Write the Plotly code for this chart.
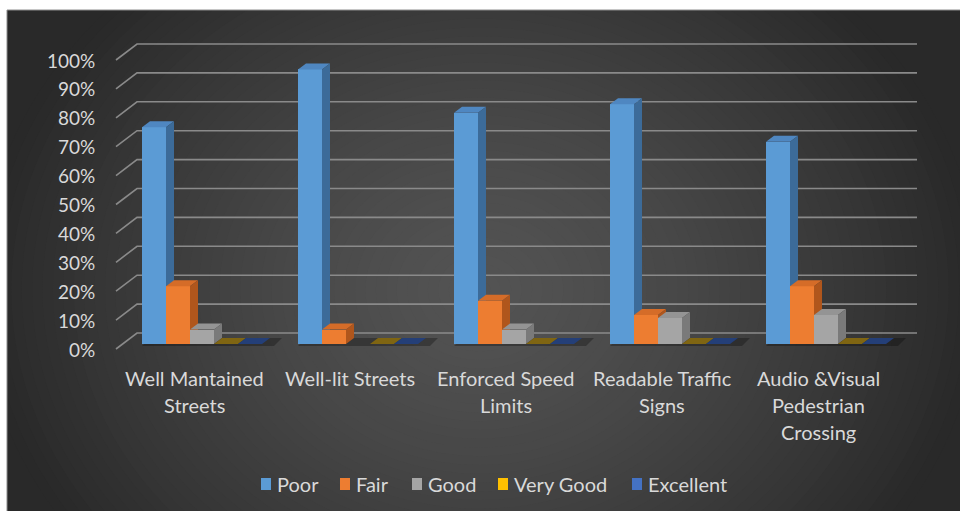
import plotly.graph_objects as go

# ---- data -------------------------------------------------------------
categories = [
    "Well Mantained<br>Streets",
    "Well-lit Streets",
    "Enforced Speed<br>Limits",
    "Readable Traffic<br>Signs",
    "Audio &Visual<br>Pedestrian<br>Crossing",
]
series_names = ["Poor", "Fair", "Good", "Very Good", "Excellent"]
poor = [0.75, 0.95, 0.80, 0.83, 0.70]
fair = [0.20, 0.05, 0.15, 0.10, 0.20]
good = [0.05, None, 0.05, 0.09, 0.10]
very_good = [0.0, 0.0, 0.0, 0.0, 0.0]
excellent = [0.0, 0.0, 0.0, 0.0, 0.0]
y_ticks = [0.0, 0.1, 0.2, 0.3, 0.4, 0.5, 0.6, 0.7, 0.8, 0.9, 1.0]
y_tick_labels = ["0%", "10%", "20%", "30%", "40%", "50%", "60%", "70%", "80%", "90%", "100%"]

series_values = [poor, fair, good, very_good, excellent]
front_colors = ["#5B9BD5", "#ED7D31", "#A5A5A5", "#FFC000", "#4472C4"]
top_colors = ["#4f87c1", "#d56c28", "#949494", "#7f6512", "#243f78"]
side_colors = ["#3c6b99", "#b0561c", "#7a7a7a", "#6b540c", "#1d3462"]

# ---- geometry of the oblique (pseudo-3D) projection --------------------
W, H = 960, 511
X0_PX, UX = 194.0, 156.0   # screen x of category 0 on the front edge, px per category
Y0_PX, UY = 349.0, 289.0   # screen y of 0% on the front edge, px per 100%


def dx(px):
    return px / UX


def dy(px):
    return px / UY


BAR_FRONT = (dx(8), dy(5))    # bar front plane offset from the front edge
BAR_BACK = (dx(16), dy(11))   # bar back plane offset
WALL = (dx(21), dy(16))       # back wall offset
BW = dx(24)                   # width of one column
n_series = len(series_names)

x_range = [-X0_PX / UX, (W - X0_PX) / UX]
y_range = [(Y0_PX - H) / UY, Y0_PX / UY]

TEXT = "#d9d9d9"
FONT = "Lato"

fig = go.Figure()

# ---- gridlines: side wall diagonals + back wall horizontals -----------
gx, gy = [], []
x_left, x_right = -0.5, len(categories) - 0.5
for v in y_ticks:
    gx += [x_left, x_left + WALL[0], x_right + WALL[0], None]
    gy += [v, v + WALL[1], v + WALL[1], None]
fig.add_trace(go.Scatter(x=gx, y=gy, mode="lines",
                         line=dict(color="#8a8a8a", width=1.6),
                         hoverinfo="skip", showlegend=False, zorder=0))

# soft shadow on the floor behind each group of columns
sx, sy = [], []
for i in range(len(categories)):
    l = i + BAR_FRONT[0] - n_series / 2 * BW
    r = i + BAR_FRONT[0] + n_series / 2 * BW + dx(12)
    sx += [l, r, r + dx(8), l + dx(8), l, None]
    sy += [BAR_FRONT[1] - dy(2), BAR_FRONT[1] - dy(2), BAR_BACK[1], BAR_BACK[1], BAR_FRONT[1] - dy(2), None]
fig.add_trace(go.Scatter(x=sx, y=sy, mode="lines", fill="toself",
                         fillcolor="rgba(0,0,0,0.28)", line=dict(width=0),
                         hoverinfo="skip", showlegend=False, zorder=0))

# ---- columns ------------------------------------------------------------
ddx = BAR_BACK[0] - BAR_FRONT[0]
ddy = BAR_BACK[1] - BAR_FRONT[1]
for j, (name, vals) in enumerate(zip(series_names, series_values)):
    xs = [i + BAR_FRONT[0] + (j - (n_series - 1) / 2) * BW for i in range(len(categories))]
    fig.add_trace(go.Bar(
        x=xs, y=vals, base=BAR_FRONT[1], width=BW, name=name,
        marker=dict(color=front_colors[j], line=dict(width=0)),
        showlegend=False, zorder=2 * j + 1,
    ))
    tx, ty, px_, py_ = [], [], [], []
    for xc, v in zip(xs, vals):
        if v is None:
            continue
        xl, xr = xc - BW / 2, xc + BW / 2
        yt = BAR_FRONT[1] + v
        tx += [xl, xr, xr + ddx, xl + ddx, xl, None]
        ty += [yt, yt, yt + ddy, yt + ddy, yt, None]
        if v > 0:
            px_ += [xr, xr + ddx, xr + ddx, xr, xr, None]
            py_ += [BAR_FRONT[1], BAR_FRONT[1] + ddy, yt + ddy, yt, BAR_FRONT[1], None]
    fig.add_trace(go.Scatter(x=tx, y=ty, mode="lines", fill="toself",
                             fillcolor=top_colors[j], line=dict(width=0),
                             hoverinfo="skip", showlegend=False, zorder=2 * j + 2))
    if px_:
        fig.add_trace(go.Scatter(x=px_, y=py_, mode="lines", fill="toself",
                                 fillcolor=side_colors[j], line=dict(width=0),
                                 hoverinfo="skip", showlegend=False, zorder=2 * j + 2))

# ---- text -----------------------------------------------------------------
ann = []
for v, lab in zip(y_ticks, y_tick_labels):
    ann.append(dict(x=x_left, y=v, xref="x", yref="y", text=lab, showarrow=False,
                    xanchor="right", yanchor="middle", xshift=-19,
                    font=dict(family=FONT, size=19, color=TEXT)))

LINE_H = 27
for i, cat in enumerate(categories):
    for k, line in enumerate(cat.split("<br>")):
        ann.append(dict(x=i, y=1 - (378 + k * LINE_H) / H, xref="x", yref="paper",
                        text=line, showarrow=False, xanchor="center", yanchor="middle",
                        font=dict(family=FONT, size=20, color=TEXT)))

# legend
shapes = []
legend_marker_x = [261, 340, 412, 498, 632]
LEG_Y = 484
for name, c, mx in zip(series_names, front_colors, legend_marker_x):
    shapes.append(dict(type="rect", xref="paper", yref="paper",
                       x0=mx / W, x1=(mx + 10) / W, y0=1 - (LEG_Y + 6) / H, y1=1 - (LEG_Y - 6) / H,
                       fillcolor=c, line=dict(width=0), layer="above"))
    ann.append(dict(x=(mx + 14) / W, y=1 - LEG_Y / H, xref="paper", yref="paper",
                    text=name, showarrow=False, xanchor="left", yanchor="middle",
                    font=dict(family=FONT, size=20, color=TEXT)))

# ---- chart area background: radial grey gradient ----------------------
bg = [dict(type="rect", xref="paper", yref="paper", x0=7 / W, x1=1, y0=0, y1=1 - 10 / H,
           fillcolor="#292929", line=dict(width=0), layer="below")]
CX, CY, RX, RY = 480, 290, 500, 420
N = 48
for k in range(N):
    t = 1 - k / N
    g = int(round(41 + 42 * (1 - t ** 1.4)))
    col = f"rgb({g},{g},{g})"
    bg.append(dict(type="circle", xref="paper", yref="paper",
                   x0=(CX - RX * t) / W, x1=(CX + RX * t) / W,
                   y0=1 - (CY + RY * t) / H, y1=1 - (CY - RY * t) / H,
                   fillcolor=col, line=dict(width=0), layer="below"))
# white page edge outside the chart area, and its thin border
bg.append(dict(type="rect", xref="paper", yref="paper", x0=0, x1=1, y0=1 - 10 / H, y1=1.05,
               fillcolor="white", line=dict(width=0), layer="below"))
bg.append(dict(type="rect", xref="paper", yref="paper", x0=-0.05, x1=7 / W, y0=-0.05, y1=1.05,
               fillcolor="white", line=dict(width=0), layer="below"))
bg.append(dict(type="rect", xref="paper", yref="paper", x0=7 / W, x1=1.01, y0=-0.01, y1=1 - 10 / H,
               fillcolor="rgba(0,0,0,0)", line=dict(width=1, color="#8c8c8c"), layer="below"))

fig.update_layout(
    width=W, height=H, autosize=False,
    margin=dict(l=0, r=0, t=0, b=0, pad=0),
    paper_bgcolor="white", plot_bgcolor="rgba(0,0,0,0)",
    barmode="overlay", bargap=0,
    xaxis=dict(range=x_range, visible=False, fixedrange=True, domain=[0, 1]),
    yaxis=dict(range=y_range, visible=False, fixedrange=True, domain=[0, 1]),
    showlegend=False,
    shapes=bg + shapes,
    annotations=ann,
)

fig.write_html("out.html", config={"displayModeBar": False})
